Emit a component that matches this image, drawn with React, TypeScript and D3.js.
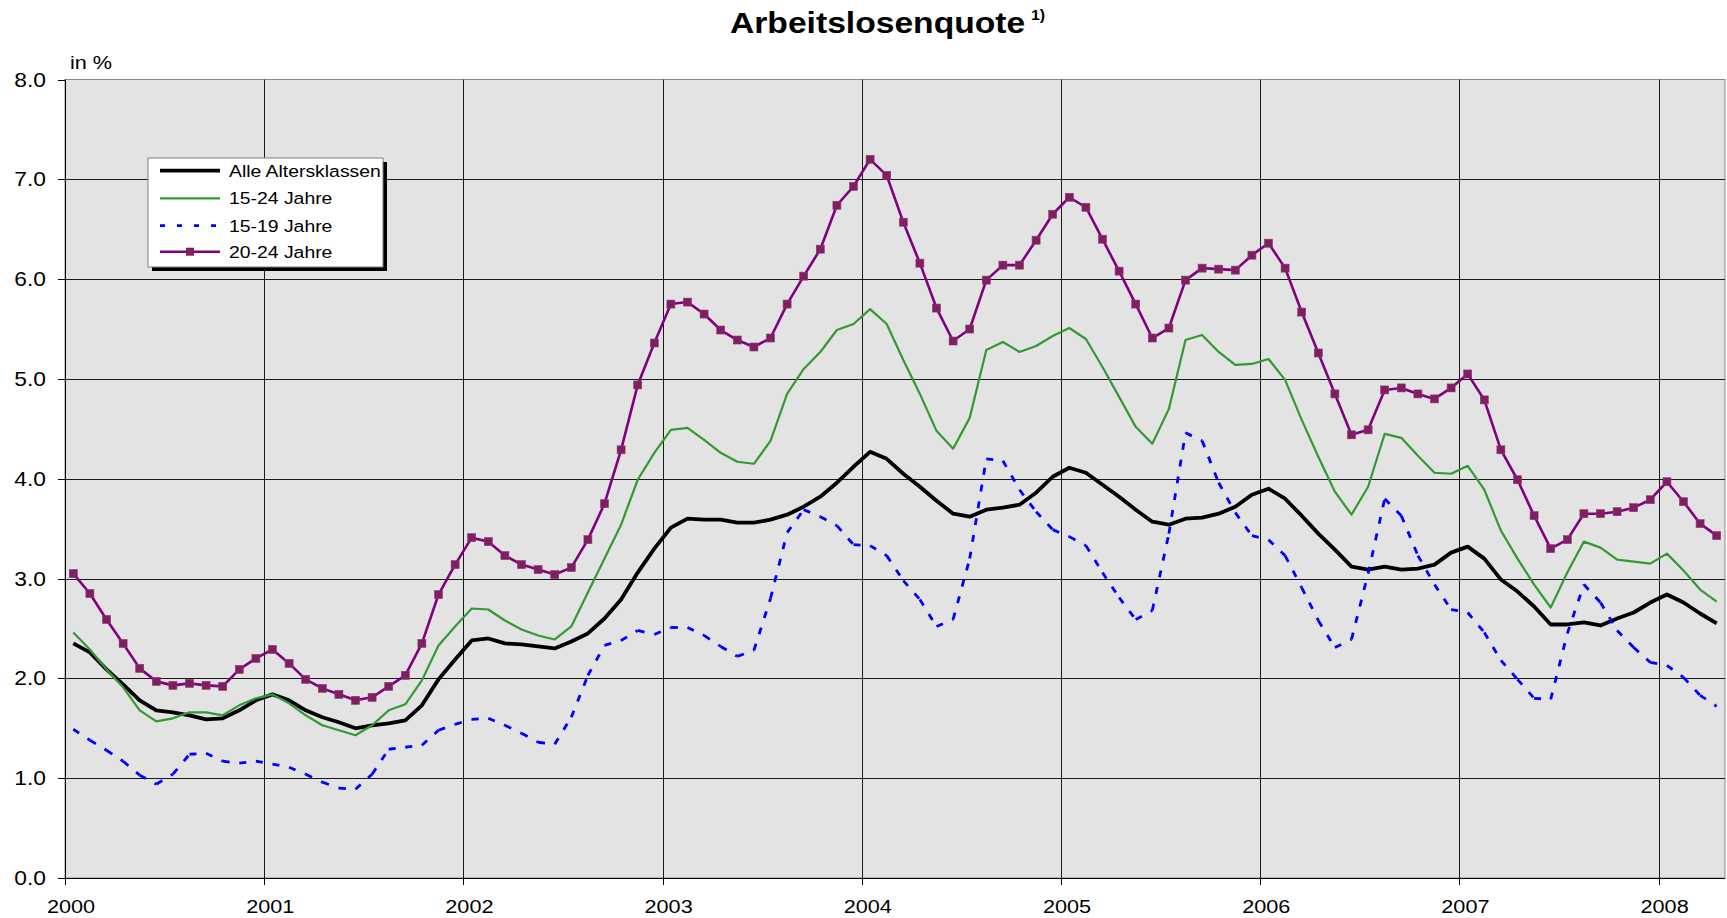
import * as d3 from "d3";
import * as React from "react";

// Monthly categories Jan 2000 .. Apr 2008
const months = d3.timeMonth.range(new Date(2000, 0, 1), new Date(2008, 4, 1));
const yearLabels = ["2000", "2001", "2002", "2003", "2004", "2005", "2006", "2007", "2008"];
const yTicks = [0, 1, 2, 3, 4, 5, 6, 7, 8];

// Alle Altersklassen
const alle = [
  2.35, 2.26, 2.09, 1.94, 1.78, 1.68, 1.66, 1.63, 1.59, 1.6, 1.68, 1.78,
  1.84, 1.78, 1.68, 1.61, 1.56, 1.5, 1.53, 1.55, 1.58, 1.73, 1.99, 2.19,
  2.38, 2.4, 2.35, 2.34, 2.32, 2.3, 2.37, 2.45, 2.6, 2.79, 3.06, 3.3,
  3.51, 3.6, 3.59, 3.59, 3.56, 3.56, 3.59, 3.64, 3.72, 3.82, 3.96, 4.12,
  4.27, 4.2, 4.05, 3.92, 3.78, 3.65, 3.62, 3.69, 3.71, 3.74, 3.86, 4.02,
  4.11, 4.06, 3.94, 3.82, 3.69, 3.57, 3.54, 3.6, 3.61, 3.65, 3.72, 3.84,
  3.9, 3.8, 3.63, 3.45, 3.29, 3.12, 3.09, 3.12, 3.09, 3.1, 3.14, 3.26,
  3.32, 3.2, 2.99, 2.87, 2.72, 2.54, 2.54, 2.56, 2.53, 2.6, 2.66, 2.76,
  2.84, 2.76, 2.65, 2.55,
];

// 15-24 Jahre
const j1524 = [
  2.46, 2.29, 2.09, 1.91, 1.68, 1.57, 1.6, 1.66, 1.66, 1.63, 1.73, 1.8,
  1.84, 1.75, 1.63, 1.53, 1.48, 1.43, 1.53, 1.68, 1.74, 1.98, 2.33, 2.52,
  2.7, 2.69, 2.58, 2.49, 2.43, 2.39, 2.52, 2.86, 3.2, 3.54, 3.99, 4.26,
  4.49, 4.51, 4.39, 4.26, 4.17, 4.15, 4.38, 4.85, 5.1, 5.27, 5.49, 5.55,
  5.7, 5.55, 5.19, 4.85, 4.48, 4.3, 4.61, 5.29, 5.37, 5.27, 5.33, 5.43,
  5.51, 5.4, 5.12, 4.82, 4.52, 4.35, 4.7, 5.39, 5.44, 5.27, 5.14, 5.15,
  5.2, 4.99, 4.59, 4.22, 3.87, 3.64, 3.92, 4.45, 4.41, 4.23, 4.06, 4.05,
  4.13, 3.89, 3.48, 3.2, 2.94, 2.71, 3.06, 3.37, 3.31, 3.19, 3.17, 3.15,
  3.25, 3.08, 2.89, 2.77,
];

// 15-19 Jahre
const j1519 = [
  1.49, 1.38, 1.28, 1.17, 1.03, 0.94, 1.04, 1.24, 1.25, 1.17, 1.15, 1.17,
  1.14, 1.11, 1.04, 0.96, 0.9, 0.89, 1.04, 1.29, 1.31, 1.33, 1.48, 1.54,
  1.59, 1.6, 1.53, 1.45, 1.36, 1.34, 1.61, 2.03, 2.33, 2.38, 2.48, 2.44,
  2.51, 2.51, 2.43, 2.32, 2.22, 2.28, 2.8, 3.46, 3.69, 3.62, 3.53, 3.34,
  3.33, 3.23, 2.98, 2.79, 2.52, 2.59, 3.2, 4.2, 4.18, 3.89, 3.67, 3.49,
  3.42, 3.33, 3.06, 2.81, 2.59, 2.68, 3.45, 4.46, 4.38, 3.96, 3.66, 3.43,
  3.39, 3.23, 2.91, 2.58, 2.31, 2.39, 3.05, 3.8, 3.63, 3.23, 2.94, 2.69,
  2.66, 2.46, 2.18, 1.99, 1.8, 1.79, 2.45, 2.94, 2.76, 2.48, 2.31, 2.16,
  2.13, 2.01, 1.83, 1.72,
];

// 20-24 Jahre
const j2024 = [
  3.05, 2.85, 2.59, 2.35, 2.1, 1.97, 1.93, 1.95, 1.93, 1.92, 2.09, 2.2,
  2.29, 2.15, 1.99, 1.9, 1.84, 1.78, 1.81, 1.92, 2.03, 2.35, 2.84, 3.14,
  3.41, 3.37, 3.23, 3.14, 3.09, 3.04, 3.11, 3.39, 3.75, 4.29, 4.94, 5.36,
  5.75, 5.77, 5.65, 5.49, 5.39, 5.32, 5.41, 5.75, 6.03, 6.3, 6.74, 6.93,
  7.2, 7.04, 6.57, 6.16, 5.71, 5.38, 5.5, 5.99, 6.14, 6.14, 6.39, 6.65,
  6.82, 6.72, 6.4, 6.08, 5.75, 5.41, 5.51, 5.99, 6.11, 6.1, 6.09, 6.24,
  6.36, 6.11, 5.67, 5.26, 4.85, 4.44, 4.49, 4.89, 4.91, 4.85, 4.8, 4.91,
  5.05, 4.79, 4.29, 3.99, 3.63, 3.3, 3.39, 3.65, 3.65, 3.67, 3.71, 3.79,
  3.97, 3.77, 3.55, 3.43,
];

const seriesNames = ["Alle Altersklassen", "15-24 Jahre", "15-19 Jahre", "20-24 Jahre"];

const W = 1727;
const H = 918;
const SX = 1.14; // the original text looks slightly wide
const FONT = "Arial, 'Liberation Sans', sans-serif";

const plot = { left: 65, right: 1725, top: 79.5, bottom: 878 };

const App: React.FC = () => {
  const idx = months.map((_, i) => i);

  const x = d3.scaleBand<number>().domain(idx).range([plot.left, plot.right]).padding(0);
  const y = d3.scaleLinear().domain([0, 8]).range([plot.bottom, plot.top]);
  const cx = (i: number) => (x(i) as number) + x.bandwidth() / 2;

  const line = d3
    .line<number>()
    .x((_, i) => cx(i))
    .y((d) => y(d));

  // january boundaries for the year grid
  const janIdx = idx.filter((i) => months[i].getMonth() === 0);

  // the dotted series restarts its dash pattern at every point
  const seg = d3
    .line<[number, number]>()
    .x((d) => d[0])
    .y((d) => d[1]);
  const dotSegs = j1519.slice(1).map((v, i) =>
    seg([
      [cx(i), y(j1519[i])],
      [cx(i + 1), y(v)],
    ])
  );

  const txt = (
    s: string,
    tx: number,
    ty: number,
    size: number,
    anchor: string = "start",
    weight: string = "normal"
  ) => (
    <text
      key={s + tx + ty}
      transform={`translate(${tx},${ty}) scale(${SX},1)`}
      fontSize={size}
      fontWeight={weight}
      textAnchor={anchor}
      fontFamily={FONT}
      fill="#000"
    >
      {s}
    </text>
  );

  const mk = 8; // marker size
  const legend = { x: 148, y: 158, w: 235, h: 109 };
  const rows = [170.7, 198.3, 225.7, 251.7];

  return (
    <svg
      width={W}
      height={H}
      style={{ position: "absolute", left: 0, top: 0, background: "#fff" }}
    >
      {/* plot area */}
      <rect
        x={plot.left}
        y={plot.top}
        width={plot.right - plot.left}
        height={plot.bottom - plot.top}
        fill="#e3e3e3"
        stroke="#8a8a8a"
        strokeWidth={1}
      />

      {/* horizontal grid */}
      {yTicks.slice(1, -1).map((t) => (
        <line
          key={"h" + t}
          x1={plot.left}
          x2={plot.right}
          y1={Math.round(y(t)) + 0.5}
          y2={Math.round(y(t)) + 0.5}
          stroke="#1a1a1a"
          strokeWidth={1}
        />
      ))}
      {/* vertical grid */}
      {janIdx.slice(1).map((i) => (
        <line
          key={"v" + i}
          x1={Math.round(x(i) as number) + 0.5}
          x2={Math.round(x(i) as number) + 0.5}
          y1={plot.top}
          y2={plot.bottom}
          stroke="#1a1a1a"
          strokeWidth={1}
        />
      ))}

      {/* axes */}
      <line x1={plot.left + 0.5} x2={plot.left + 0.5} y1={plot.top} y2={plot.bottom} stroke="#000" />
      <line x1={plot.left} x2={plot.right} y1={plot.bottom + 0.5} y2={plot.bottom + 0.5} stroke="#000" />
      {yTicks.map((t) => (
        <line
          key={"yt" + t}
          x1={plot.left - 7}
          x2={plot.left}
          y1={Math.round(y(t)) + 0.5}
          y2={Math.round(y(t)) + 0.5}
          stroke="#000"
        />
      ))}
      {janIdx.map((i) => (
        <line
          key={"xt" + i}
          x1={Math.round(x(i) as number) + 0.5}
          x2={Math.round(x(i) as number) + 0.5}
          y1={plot.bottom}
          y2={plot.bottom + 7}
          stroke="#000"
        />
      ))}

      {/* y labels */}
      {yTicks.map((t) => txt(d3.format(".1f")(t), 46, y(t) + 7, 20, "end"))}
      {/* year labels */}
      {janIdx.map((i, k) => txt(yearLabels[k], (x(i) as number) + 6, 913, 19, "middle"))}

      {/* series */}
      <path d={line(alle) || ""} fill="none" stroke="#000" strokeWidth={3.8} strokeLinejoin="round" />
      <path d={line(j1524) || ""} fill="none" stroke="#339933" strokeWidth={2.2} strokeLinejoin="round" />
      {dotSegs.map((d, i) => (
        <path key={"b" + i} d={d || ""} fill="none" stroke="#0000ff" strokeWidth={2.8} strokeDasharray="7 10" />
      ))}
      <path d={line(j2024) || ""} fill="none" stroke="#800080" strokeWidth={2.6} strokeLinejoin="round" />
      {j2024.map((v, i) => (
        <rect
          key={"m" + i}
          x={cx(i) - mk / 2}
          y={y(v) - mk / 2}
          width={mk}
          height={mk}
          fill="#7f1f60"
          stroke="#8a3a72"
          strokeWidth={0.6}
        />
      ))}

      {/* legend */}
      <rect x={legend.x + 4} y={legend.y + 4} width={legend.w} height={legend.h} fill="#000" />
      <rect x={legend.x} y={legend.y} width={legend.w} height={legend.h} fill="#fff" stroke="#808080" />
      <line x1={160} x2={220} y1={rows[0]} y2={rows[0]} stroke="#000" strokeWidth={3.8} />
      <line x1={160} x2={220} y1={rows[1]} y2={rows[1]} stroke="#339933" strokeWidth={2.2} />
      <line x1={160} x2={220} y1={rows[2]} y2={rows[2]} stroke="#0000ff" strokeWidth={2.8} strokeDasharray="5 12" />
      <line x1={160} x2={220} y1={rows[3]} y2={rows[3]} stroke="#800080" strokeWidth={2.6} />
      <rect x={190 - mk / 2} y={rows[3] - mk / 2} width={mk} height={mk} fill="#7f1f60" />
      {seriesNames.map((n, k) => txt(n, 229, rows[k] + 6, 17))}

      {/* titles */}
      {txt("Arbeitslosenquote", 730, 33, 29.5, "start", "bold")}
      {txt("1)", 1031, 20, 14, "start", "bold")}
      {txt("in %", 70, 69, 19)}
    </svg>
  );
};

export default App;
